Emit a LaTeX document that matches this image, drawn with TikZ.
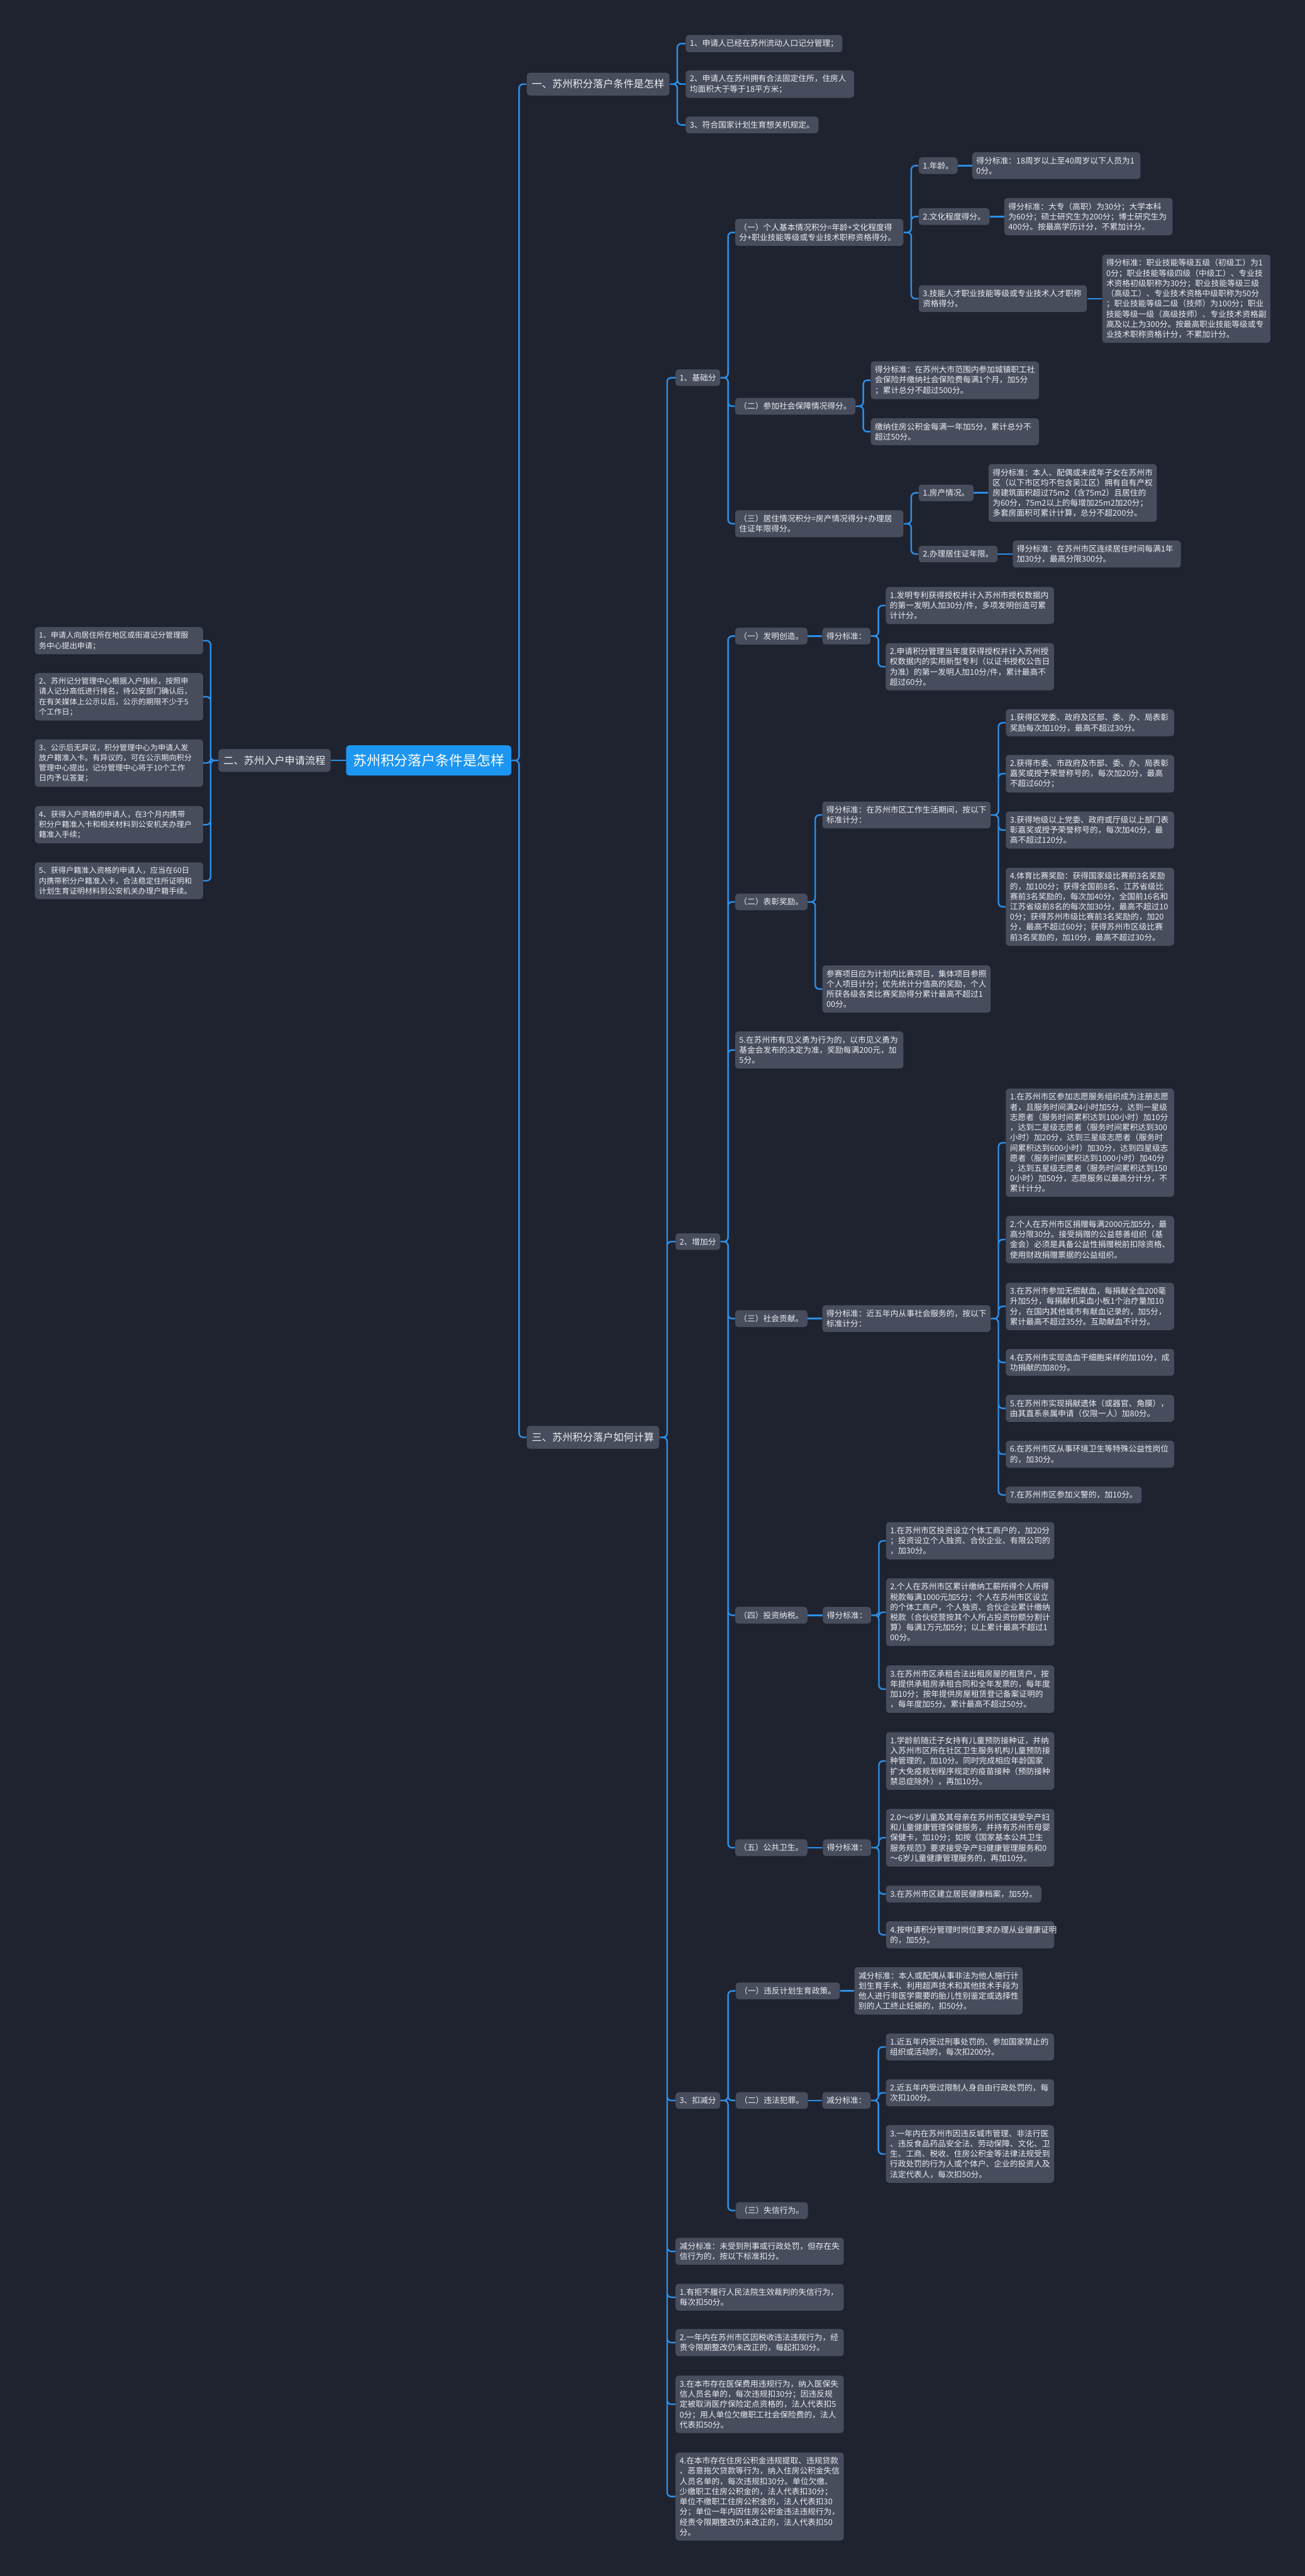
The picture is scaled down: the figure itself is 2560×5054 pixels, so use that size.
\documentclass[tikz,border=0pt]{standalone}
\usepackage{fontspec}
\setmainfont{Noto Sans CJK SC}
\usepackage{tikz}
\usetikzlibrary{backgrounds}
\definecolor{bgcol}{HTML}{1F2330}
\definecolor{boxcol}{HTML}{484D5D}
\definecolor{linecol}{HTML}{2C8FE6}
\definecolor{rootcol}{HTML}{1D96F2}
\definecolor{txtcol}{HTML}{ECEEF3}

\begin{document}
\begin{tikzpicture}[x=0.5pt,y=-0.5pt,
  rootbox/.style={fill=rootcol,text=white,rounded corners=3pt,inner xsep=6.75pt,inner ysep=8.5pt,
    font=\fontsize{13.5}{16}\selectfont},
  mainbox/.style={fill=boxcol,text=txtcol,rounded corners=3pt,inner xsep=5pt,inner ysep=6.5pt,
    font=\fontsize{10}{12}\selectfont},
  itembox/.style={fill=boxcol,text=txtcol,rounded corners=3pt,inner xsep=4pt,inner ysep=4.5pt,
    align=left,anchor=west,font=\fontsize{7.85}{10}\selectfont},
  leafbox/.style={itembox,text width=157pt},
  leftbox/.style={itembox,text width=157pt,font=\fontsize{7.5}{10}\selectfont},
  link/.style={draw=linecol,line width=1.5pt,rounded corners=4pt}]
\useasboundingbox (0,0) rectangle (2560,5054);
% root and first level
    \node[rootbox] (root) at (841,1492) {苏州积分落户条件是怎样};
    \node[mainbox,anchor=west] (yi) at (1033,165) {一、苏州积分落户条件是怎样};
    \node[mainbox,anchor=east] (erh) at (649,1492) {二、苏州入户申请流程};
    \node[mainbox,anchor=west] (san) at (1033,2820) {三、苏州积分落户如何计算};
% part 1
    \node[itembox] (y1) at (1345,85.5) {1、申请人已经在苏州流动人口记分管理；};
    \node[leafbox] (y2) at (1345,165) {2、申请人在苏州拥有合法固定住所，住房人\\均面积大于等于18平方米；};
    \node[itembox] (y3) at (1345,245) {3、符合国家计划生育想关机规定。};
% part 2 (left side)
    \node[leftbox] (l1) at (68,1257) {1、申请人向居住所在地区或街道记分管理服\\务中心提出申请；};
    \node[leftbox] (l2) at (68,1367) {2、苏州记分管理中心根据入户指标，按照申\\请人记分高低进行排名，待公安部门确认后，\\在有关媒体上公示以后，公示的期限不少于5\\个工作日；};
    \node[leftbox] (l3) at (68,1497) {3、公示后无异议，积分管理中心为申请人发\\放户籍准入卡。有异议的，可在公示期向积分\\管理中心提出，记分管理中心将于10个工作\\日内予以答复；};
    \node[leftbox] (l4) at (68,1618) {4、获得入户资格的申请人，在3个月内携带\\积分户籍准入卡和相关材料到公安机关办理户\\籍准入手续；};
    \node[leftbox] (l5) at (68,1728) {5、获得户籍准入资格的申请人，应当在60日\\内携带积分户籍准入卡，合法稳定住所证明和\\计划生育证明材料到公安机关办理户籍手续。};
% part 3: 1 基础分
    \node[itembox] (jc) at (1325,741) {1、基础分};
    \node[leafbox] (jc1) at (1442,456) {（一）个人基本情况积分=年龄+文化程度得\\分+职业技能等级或专业技术职称资格得分。};
    \node[itembox] (jc1a) at (1802,325) {1.年龄。};
    \node[leafbox] (jc1a1) at (1907,325) {得分标准：18周岁以上至40周岁以下人员为1\\0分。};
    \node[itembox] (jc1b) at (1802,425) {2.文化程度得分。};
    \node[leafbox] (jc1b1) at (1970,425) {得分标准：大专（高职）为30分；大学本科\\为60分；硕士研究生为200分；博士研究生为\\400分。按最高学历计分，不累加计分。};
    \node[leafbox] (jc1c) at (1802,586) {3.技能人才职业技能等级或专业技术人才职称\\资格得分。};
    \node[leafbox] (jc1c1) at (2162,586) {得分标准：职业技能等级五级（初级工）为1\\0分；职业技能等级四级（中级工）、专业技\\术资格初级职称为30分；职业技能等级三级\\（高级工）、专业技术资格中级职称为50分\\；职业技能等级二级（技师）为100分；职业\\技能等级一级（高级技师）、专业技术资格副\\高及以上为300分。按最高职业技能等级或专\\业技术职称资格计分，不累加计分。};
    \node[itembox] (jc2) at (1442,797) {（二）参加社会保障情况得分。};
    \node[leafbox] (jc2a) at (1708,746) {得分标准：在苏州大市范围内参加城镇职工社\\会保险并缴纳社会保险费每满1个月，加5分\\；累计总分不超过500分。};
    \node[leafbox] (jc2b) at (1708,847) {缴纳住房公积金每满一年加5分，累计总分不\\超过50分。};
    \node[leafbox] (jc3) at (1442,1027.5) {（三）居住情况积分=房产情况得分+办理居\\住证年限得分。};
    \node[itembox] (jc3a) at (1802,967) {1.房产情况。};
    \node[leafbox] (jc3a1) at (1939,967) {得分标准：本人、配偶或未成年子女在苏州市\\区（以下市区均不包含吴江区）拥有自有产权\\房建筑面积超过75m2（含75m2）且居住的\\为60分，75m2以上的每增加25m2加20分；\\多套房面积可累计计算，总分不超200分。};
    \node[itembox] (jc3b) at (1802,1087) {2.办理居住证年限。};
    \node[leafbox] (jc3b1) at (1986.5,1087) {得分标准：在苏州市区连续居住时间每满1年\\加30分，最高分限300分。};
% part 3: 2 增加分
    \node[itembox] (zj) at (1325,2436) {2、增加分};
    \node[itembox] (zj1) at (1442,1248) {（一）发明创造。};
    \node[itembox] (zj1s) at (1613,1248) {得分标准：};
    \node[leafbox] (zj1s1) at (1737.5,1188) {1.发明专利获得授权并计入苏州市授权数据内\\的第一发明人加30分/件，多项发明创造可累\\计计分。};
    \node[leafbox] (zj1s2) at (1737.5,1308) {2.申请积分管理当年度获得授权并计入苏州授\\权数据内的实用新型专利（以证书授权公告日\\为准）的第一发明人加10分/件，累计最高不\\超过60分。};
    \node[itembox] (zj2) at (1442,1769.5) {（二）表彰奖励。};
    \node[leafbox] (zj2s) at (1613,1599) {得分标准：在苏州市区工作生活期间，按以下\\标准计分：};
    \node[leafbox] (zj2s1) at (1973,1418) {1.获得区党委、政府及区部、委、办、局表彰\\奖励每次加10分，最高不超过30分。};
    \node[leafbox] (zj2s2) at (1973,1518) {2.获得市委、市政府及市部、委、办、局表彰\\嘉奖或授予荣誉称号的，每次加20分，最高\\不超过60分；};
    \node[leafbox] (zj2s3) at (1973,1628.5) {3.获得地级以上党委、政府或厅级以上部门表\\彰嘉奖或授予荣誉称号的，每次加40分，最\\高不超过120分。};
    \node[leafbox] (zj2s4) at (1973,1779) {4.体育比赛奖励：获得国家级比赛前3名奖励\\的，加100分；获得全国前8名、江苏省级比\\赛前3名奖励的，每次加40分，全国前16名和\\江苏省级前8名的每次加30分，最高不超过10\\0分；获得苏州市级比赛前3名奖励的，加20\\分，最高不超过60分；获得苏州市区级比赛\\前3名奖励的，加10分，最高不超过30分。};
    \node[leafbox] (zj2t) at (1613,1940.5) {参赛项目应为计划内比赛项目，集体项目参照\\个人项目计分；优先统计分值高的奖励，个人\\所获各级各类比赛奖励得分累计最高不超过1\\00分。};
    \node[leafbox] (jyyw) at (1442,2060) {5.在苏州市有见义勇为行为的，以市见义勇为\\基金会发布的决定为准，奖励每满200元，加\\5分。};
    \node[itembox] (zj3) at (1442,2587) {（三）社会贡献。};
    \node[leafbox] (zj3s) at (1613,2587) {得分标准：近五年内从事社会服务的，按以下\\标准计分：};
    \node[leafbox] (zj3s1) at (1973,2242) {1.在苏州市区参加志愿服务组织成为注册志愿\\者，且服务时间满24小时加5分，达到一星级\\志愿者（服务时间累积达到100小时）加10分\\，达到二星级志愿者（服务时间累积达到300\\小时）加20分，达到三星级志愿者（服务时\\间累积达到600小时）加30分，达到四星级志\\愿者（服务时间累积达到1000小时）加40分\\，达到五星级志愿者（服务时间累积达到150\\0小时）加50分，志愿服务以最高分计分，不\\累计计分。};
    \node[leafbox] (zj3s2) at (1973,2432) {2.个人在苏州市区捐赠每满2000元加5分，最\\高分限30分。接受捐赠的公益慈善组织（基\\金会）必须是具备公益性捐赠税前扣除资格、\\使用财政捐赠票据的公益组织。};
    \node[leafbox] (zj3s3) at (1973,2563) {3.在苏州市参加无偿献血，每捐献全血200毫\\升加5分，每捐献机采血小板1个治疗量加10\\分，在国内其他城市有献血记录的，加5分，\\累计最高不超过35分。互助献血不计分。};
    \node[leafbox] (zj3s4) at (1973,2673) {4.在苏州市实现造血干细胞采样的加10分，成\\功捐献的加80分。};
    \node[leafbox] (zj3s5) at (1973,2763) {5.在苏州市实现捐献遗体（或器官、角膜），\\由其直系亲属申请（仅限一人）加80分。};
    \node[leafbox] (zj3s6) at (1973,2853) {6.在苏州市区从事环境卫生等特殊公益性岗位\\的，加30分。};
    \node[itembox] (zj3s7) at (1973,2933) {7.在苏州市区参加义警的，加10分。};
    \node[itembox] (zj4) at (1442,3169) {（四）投资纳税。};
    \node[itembox] (zj4s) at (1614,3169) {得分标准：};
    \node[leafbox] (zj4s1) at (1738,3023) {1.在苏州市区投资设立个体工商户的，加20分\\；投资设立个人独资、合伙企业、有限公司的\\，加30分。};
    \node[leafbox] (zj4s2) at (1738,3163) {2.个人在苏州市区累计缴纳工薪所得个人所得\\税款每满1000元加5分；个人在苏州市区设立\\的个体工商户，个人独资、合伙企业累计缴纳\\税款（合伙经营按其个人所占投资份额分割计\\算）每满1万元加5分；以上累计最高不超过1\\00分。};
    \node[leafbox] (zj4s3) at (1738,3314) {3.在苏州市区承租合法出租房屋的租赁户，按\\年提供承租房承租合同和全年发票的，每年度\\加10分；按年提供房屋租赁登记备案证明的\\，每年度加5分。累计最高不超过50分。};
    \node[itembox] (zj5) at (1442,3625) {（五）公共卫生。};
    \node[itembox] (zj5s) at (1614,3625) {得分标准：};
    \node[leafbox] (zj5s1) at (1738,3455) {1.学龄前随迁子女持有儿童预防接种证，并纳\\入苏州市区所在社区卫生服务机构儿童预防接\\种管理的，加10分。同时完成相应年龄国家\\扩大免疫规划程序规定的疫苗接种（预防接种\\禁忌症除外），再加10分。};
    \node[leafbox] (zj5s2) at (1738,3605.5) {2.0～6岁儿童及其母亲在苏州市区接受孕产妇\\和儿童健康管理保健服务，并持有苏州市母婴\\保健卡，加10分；如按《国家基本公共卫生\\服务规范》要求接受孕产妇健康管理服务和0\\～6岁儿童健康管理服务的，再加10分。};
    \node[itembox] (zj5s3) at (1738,3716) {3.在苏州市区建立居民健康档案，加5分。};
    \node[leafbox] (zj5s4) at (1738,3796) {4.按申请积分管理时岗位要求办理从业健康证明\\的，加5分。};
% part 3: 3 扣减分
    \node[itembox] (kj) at (1325,4121) {3、扣减分};
    \node[itembox] (kj1) at (1443,3906) {（一）违反计划生育政策。};
    \node[leafbox] (kj1a) at (1676,3906) {减分标准：本人或配偶从事非法为他人施行计\\划生育手术、利用超声技术和其他技术手段为\\他人进行非医学需要的胎儿性别鉴定或选择性\\别的人工终止妊娠的，扣50分。};
    \node[itembox] (kj2) at (1443,4121) {（二）违法犯罪。};
    \node[itembox] (kj2s) at (1613,4121) {减分标准：};
    \node[leafbox] (kj2s1) at (1737.6,4016) {1.近五年内受过刑事处罚的、参加国家禁止的\\组织或活动的，每次扣200分。};
    \node[leafbox] (kj2s2) at (1737.6,4106) {2.近五年内受过限制人身自由行政处罚的，每\\次扣100分。};
    \node[leafbox] (kj2s3) at (1737.6,4226) {3.一年内在苏州市因违反城市管理、非法行医\\、违反食品药品安全法、劳动保障、文化、卫\\生、工商、税收、住房公积金等法律法规受到\\行政处罚的行为人或个体户、企业的投资人及\\法定代表人，每次扣50分。};
    \node[itembox] (kj3) at (1443,4337) {（三）失信行为。};
    \node[leafbox] (sx1) at (1325,4417) {减分标准：未受到刑事或行政处罚，但存在失\\信行为的，按以下标准扣分。};
    \node[leafbox] (sx2) at (1325,4507) {1.有拒不履行人民法院生效裁判的失信行为，\\每次扣50分。};
    \node[leafbox] (sx3) at (1325,4596) {2.一年内在苏州市区因税收违法违规行为，经\\责令限期整改仍未改正的，每起扣30分。};
    \node[leafbox] (sx4) at (1325,4717) {3.在本市存在医保费用违规行为，纳入医保失\\信人员名单的，每次违规扣30分；因违反规\\定被取消医疗保险定点资格的，法人代表扣5\\0分；用人单位欠缴职工社会保险费的，法人\\代表扣50分。};
    \node[leafbox] (sx5) at (1325,4898) {4.在本市存在住房公积金违规提取、违规贷款\\、恶意拖欠贷款等行为，纳入住房公积金失信\\人员名单的，每次违规扣30分。单位欠缴、\\少缴职工住房公积金的，法人代表扣30分；\\单位不缴职工住房公积金的，法人代表扣30\\分；单位一年内因住房公积金违法违规行为，\\经责令限期整改仍未改正的，法人代表扣50\\分。};
% edges
\begin{scope}[on background layer]
    \fill[bgcol] (0,0) rectangle (2560,5054);
    \draw[link] (root.west) -- (erh.east);
    \draw[link] (root.east) -- ++(15,0) |- (yi.west) (root.east) -- ++(15,0) |- (san.west);
    \draw[link] (erh.west) -- ++(-15,0) |- (l1.east) (erh.west) -- ++(-15,0) |- (l2.east)
      (erh.west) -- ++(-15,0) |- (l3.east) (erh.west) -- ++(-15,0) |- (l4.east)
      (erh.west) -- ++(-15,0) |- (l5.east);
    \draw[link] (yi.east) -- ++(15,0) |- (y1.west) (yi.east) -- ++(15,0) |- (y2.west)
      (yi.east) -- ++(15,0) |- (y3.west);
    \draw[link] (san.east) -- ++(15,0) |- (jc.west) (san.east) -- ++(15,0) |- (zj.west)
      (san.east) -- ++(15,0) |- (kj.west) (san.east) -- ++(15,0) |- (sx1.west)
      (san.east) -- ++(15,0) |- (sx2.west) (san.east) -- ++(15,0) |- (sx3.west)
      (san.east) -- ++(15,0) |- (sx4.west) (san.east) -- ++(15,0) |- (sx5.west);
    % 基础分
    \draw[link] (jc.east) -- ++(15,0) |- (jc1.west) (jc.east) -- ++(15,0) |- (jc2.west)
      (jc.east) -- ++(15,0) |- (jc3.west);
    \draw[link] (jc1.east) -- ++(15,0) |- (jc1a.west) (jc1.east) -- ++(15,0) |- (jc1b.west)
      (jc1.east) -- ++(15,0) |- (jc1c.west);
    \draw[link] (jc1a) -- (jc1a1) (jc1b) -- (jc1b1) (jc1c) -- (jc1c1);
    \draw[link] (jc2.east) -- ++(15,0) |- (jc2a.west) (jc2.east) -- ++(15,0) |- (jc2b.west);
    \draw[link] (jc3.east) -- ++(15,0) |- (jc3a.west) (jc3.east) -- ++(15,0) |- (jc3b.west);
    \draw[link] (jc3a) -- (jc3a1) (jc3b) -- (jc3b1);
    % 增加分
    \draw[link] (zj.east) -- ++(15,0) |- (zj1.west) (zj.east) -- ++(15,0) |- (zj2.west)
      (zj.east) -- ++(15,0) |- (jyyw.west) (zj.east) -- ++(15,0) |- (zj3.west)
      (zj.east) -- ++(15,0) |- (zj4.west) (zj.east) -- ++(15,0) |- (zj5.west);
    \draw[link] (zj1) -- (zj1s);
    \draw[link] (zj1s.east) -- ++(15,0) |- (zj1s1.west) (zj1s.east) -- ++(15,0) |- (zj1s2.west);
    \draw[link] (zj2.east) -- ++(15,0) |- (zj2s.west) (zj2.east) -- ++(15,0) |- (zj2t.west);
    \draw[link] (zj2s.east) -- ++(15,0) |- (zj2s1.west) (zj2s.east) -- ++(15,0) |- (zj2s2.west)
      (zj2s.east) -- ++(15,0) |- (zj2s3.west) (zj2s.east) -- ++(15,0) |- (zj2s4.west);
    \draw[link] (zj3) -- (zj3s);
    \draw[link] (zj3s.east) -- ++(15,0) |- (zj3s1.west) (zj3s.east) -- ++(15,0) |- (zj3s2.west)
      (zj3s.east) -- ++(15,0) |- (zj3s3.west) (zj3s.east) -- ++(15,0) |- (zj3s4.west)
      (zj3s.east) -- ++(15,0) |- (zj3s5.west) (zj3s.east) -- ++(15,0) |- (zj3s6.west)
      (zj3s.east) -- ++(15,0) |- (zj3s7.west);
    \draw[link] (zj4) -- (zj4s);
    \draw[link] (zj4s.east) -- ++(15,0) |- (zj4s1.west) (zj4s.east) -- ++(15,0) |- (zj4s2.west)
      (zj4s.east) -- ++(15,0) |- (zj4s3.west);
    \draw[link] (zj5) -- (zj5s);
    \draw[link] (zj5s.east) -- ++(15,0) |- (zj5s1.west) (zj5s.east) -- ++(15,0) |- (zj5s2.west)
      (zj5s.east) -- ++(15,0) |- (zj5s3.west) (zj5s.east) -- ++(15,0) |- (zj5s4.west);
    % 扣减分
    \draw[link] (kj.east) -- ++(15,0) |- (kj1.west) (kj.east) -- ++(15,0) |- (kj2.west)
      (kj.east) -- ++(15,0) |- (kj3.west);
    \draw[link] (kj1) -- (kj1a) (kj2) -- (kj2s);
    \draw[link] (kj2s.east) -- ++(15,0) |- (kj2s1.west) (kj2s.east) -- ++(15,0) |- (kj2s2.west)
      (kj2s.east) -- ++(15,0) |- (kj2s3.west);
\end{scope}
\end{tikzpicture}
\end{document}
